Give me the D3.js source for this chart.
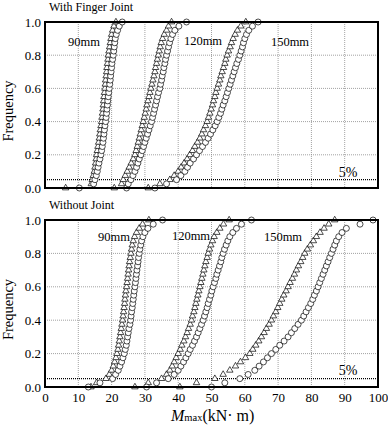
<!DOCTYPE html>
<html>
<head>
<meta charset="utf-8">
<script src="https://cdn.jsdelivr.net/npm/d3@7"></script>
<style>
  body { margin: 0; background: #fff; }
  svg text { font-family: "Liberation Serif", "DejaVu Serif", serif !important; fill: #000; }
</style>
</head>
<body>
<svg id="svg"></svg>
<script>
// sorted M_max values (kN·m), frequency = rank / (n - 1)
const fj90Tri = [6.2,13.9,14.2,14.5,14.8,15.0,15.2,15.35,15.5,15.7,15.9,16.1,16.3,16.45,16.6,16.8,17.0,17.1,17.25,17.4,17.5,17.6,17.7,17.85,18.0,18.1,18.2,18.35,18.5,18.6,18.75,18.9,19.0,19.2,19.4,19.6,19.8,20.0,20.3,20.7,21.3];
const fj90Cir = [10.3,14.6,15.0,15.4,15.7,15.95,16.2,16.5,16.8,17.0,17.2,17.4,17.55,17.7,17.85,18.0,18.2,18.35,18.5,18.6,18.75,18.85,19.0,19.15,19.3,19.45,19.6,19.7,19.85,20.0,20.1,20.3,20.5,20.65,20.8,20.95,21.1,21.4,21.8,22.3,23.2];
const fj120Tri = [20.8,23.0,23.5,24.1,24.7,25.3,25.9,26.5,27.0,27.35,27.7,28.0,28.3,28.6,28.9,29.2,29.5,29.8,30.1,30.4,30.6,30.9,31.2,31.5,31.8,32.1,32.4,32.7,33.0,33.2,33.5,33.75,34.0,34.3,34.6,34.9,35.3,35.8,36.5,37.1,38.0];
const fj120Cir = [24.5,25.0,25.8,26.4,27.0,27.5,27.9,28.3,28.8,29.2,29.6,30.0,30.4,30.8,31.2,31.6,32.0,32.3,32.6,32.9,33.2,33.5,33.8,34.1,34.5,34.7,35.0,35.2,35.5,35.7,36.0,36.2,36.5,36.8,37.1,37.4,37.8,38.3,39.0,40.2,42.5];
const fj150Tri = [31.0,34.5,37.5,38.8,40.0,40.9,41.8,42.7,43.5,44.3,45.0,45.8,46.5,47.1,47.6,48.2,48.7,49.1,49.5,49.9,50.3,50.6,51.0,51.3,51.7,52.1,52.5,52.8,53.2,53.6,54.0,54.3,54.7,55.1,55.6,56.0,56.5,57.1,57.8,58.8,60.3];
const fj150Cir = [33.0,36.5,39.5,40.8,42.0,42.8,43.6,44.6,45.5,46.4,47.3,48.2,49.0,49.7,50.4,51.1,51.7,52.2,52.7,53.1,53.5,54.0,54.4,54.8,55.2,55.6,56.0,56.4,56.8,57.2,57.6,58.1,58.5,58.9,59.3,59.6,60.0,60.5,61.2,62.3,64.0];

const nj90Tri = [13.8,15.5,18.3,19.3,20.0,20.5,20.9,21.3,21.6,21.9,22.1,22.3,22.5,22.7,22.9,23.1,23.3,23.45,23.6,23.75,23.9,24.0,24.15,24.3,24.5,24.65,24.8,24.95,25.1,25.25,25.4,25.6,25.8,26.0,26.2,26.5,26.9,27.5,28.3,29.3,31.2];
const nj90Cir = [13.0,16.5,20.3,21.2,22.0,22.5,23.0,23.4,23.8,24.1,24.4,24.6,24.8,25.0,25.2,25.5,25.7,25.85,26.0,26.2,26.35,26.5,26.65,26.8,27.0,27.15,27.3,27.45,27.6,27.8,27.95,28.1,28.3,28.5,28.75,29.0,29.4,30.0,30.9,32.5,35.3];
const nj120Tri = [27.0,31.0,35.0,36.5,37.5,38.2,38.8,39.4,40.0,40.6,41.1,41.7,42.2,42.7,43.1,43.6,44.0,44.3,44.7,45.0,45.3,45.6,45.9,46.2,46.5,46.8,47.1,47.4,47.7,48.0,48.3,48.7,49.0,49.4,49.8,50.3,50.8,51.6,52.5,53.6,55.3];
const nj120Cir = [30.5,33.5,37.0,38.8,40.0,40.8,41.6,42.3,43.0,43.6,44.3,44.9,45.5,46.0,46.5,47.0,47.5,47.9,48.3,48.7,49.0,49.4,49.8,50.1,50.5,50.9,51.3,51.6,52.0,52.4,52.8,53.1,53.5,53.9,54.4,54.9,55.5,56.4,57.5,59.0,62.0];
const nj150Tri = [40.5,45.5,51.0,53.5,55.5,57.2,58.7,60.2,61.5,62.4,63.3,64.2,65.0,65.8,66.5,67.3,68.0,68.6,69.3,69.9,70.5,71.1,71.7,72.4,73.0,73.6,74.3,74.9,75.5,76.1,76.8,77.4,78.0,78.8,79.7,80.6,81.5,82.6,83.8,85.2,87.0];
const nj150Cir = [50.0,54.0,58.5,61.0,63.0,64.3,65.6,66.8,68.0,69.3,70.5,71.8,73.0,74.0,75.0,76.0,77.0,77.7,78.4,79.1,79.8,80.4,80.9,81.5,82.0,82.5,83.0,83.5,84.0,84.5,85.0,85.5,86.0,86.5,87.0,87.5,88.2,89.2,90.5,94.6,98.5];

const xTicks = [0, 10, 20, 30, 40, 50, 60, 70, 80, 90, 100];
const yTicks = [0, 0.2, 0.4, 0.6, 0.8, 1.0];
const fivePct = 0.05;

const panels = [
  { title: "With Finger Joint", top: 22, bottom: 188,
    series: [["tri", fj90Tri], ["cir", fj90Cir], ["tri", fj120Tri], ["cir", fj120Cir], ["tri", fj150Tri], ["cir", fj150Cir]],
    labels: [["90mm", 84, 46], ["120mm", 203, 45], ["150mm", 290, 46]], pctY: 177, xLabels: false },
  { title: "Without Joint", top: 220, bottom: 387,
    series: [["tri", nj90Tri], ["cir", nj90Cir], ["tri", nj120Tri], ["cir", nj120Cir], ["tri", nj150Tri], ["cir", nj150Cir]],
    labels: [["90mm", 114, 241], ["120mm", 191, 240], ["150mm", 283, 241]], pctY: 375, xLabels: true }
];

const width = 388, height = 425;
const left = 45, right = 378;
const serif = "'Liberation Serif', 'DejaVu Serif', serif";

const svg = d3.select("#svg").attr("width", width).attr("height", height)
  .attr("font-family", serif);

const x = d3.scaleLinear().domain([0, 100]).range([left, right]);
const tri = d3.symbol().type(d3.symbolTriangle).size(18);

panels.forEach(p => {
  const y = d3.scaleLinear().domain([0, 1]).range([p.bottom, p.top]);
  const g = svg.append("g");

  // grid
  g.selectAll(".vgrid").data(xTicks.slice(1, -1)).join("line")
    .attr("x1", d => x(d)).attr("x2", d => x(d))
    .attr("y1", p.top).attr("y2", p.bottom)
    .attr("stroke", "#8a8a8a").attr("stroke-width", 0.8).attr("stroke-dasharray", "1,1");
  g.selectAll(".hgrid").data(yTicks.slice(1, -1)).join("line")
    .attr("x1", left).attr("x2", right)
    .attr("y1", d => y(d)).attr("y2", d => y(d))
    .attr("stroke", "#8a8a8a").attr("stroke-width", 0.8).attr("stroke-dasharray", "1,1");

  // 5% line
  g.append("line")
    .attr("x1", left).attr("x2", right)
    .attr("y1", y(fivePct)).attr("y2", y(fivePct))
    .attr("stroke", "#000").attr("stroke-width", 1.3).attr("stroke-dasharray", "1,1");

  // markers
  p.series.forEach(([kind, vals]) => {
    const n = vals.length;
    const pts = vals.map((v, i) => [v, i / (n - 1)]);
    if (kind === "tri") {
      g.append("g").selectAll("path").data(pts).join("path")
        .attr("d", tri)
        .attr("transform", d => `translate(${x(d[0])},${y(d[1])})`)
        .attr("fill", "#fff").attr("stroke", "#000").attr("stroke-width", 0.7);
    } else {
      g.append("g").selectAll("circle").data(pts).join("circle")
        .attr("cx", d => x(d[0])).attr("cy", d => y(d[1])).attr("r", 3)
        .attr("fill", "#fff").attr("stroke", "#000").attr("stroke-width", 0.7);
    }
  });

  // frame
  g.append("rect")
    .attr("x", left).attr("y", p.top)
    .attr("width", right - left).attr("height", p.bottom - p.top)
    .attr("fill", "none").attr("stroke", "#000").attr("stroke-width", 2);

  // y axis labels
  g.append("g").attr("transform", `translate(${left - 4},0)`)
    .call(d3.axisLeft(y).tickValues(yTicks).tickFormat(d3.format(".1f")).tickSize(0).tickPadding(0))
    .attr("font-family", serif).attr("font-size", 13)
    .call(a => a.select(".domain").remove());

  if (p.xLabels) {
    g.append("g").attr("transform", `translate(0,${p.bottom + 6})`)
      .call(d3.axisBottom(x).tickValues(xTicks).tickSize(0).tickPadding(0))
      .attr("font-family", serif).attr("font-size", 13)
      .call(a => a.select(".domain").remove())
      .selectAll("text").attr("dy", "0.71em");
  }

  g.append("text")
    .attr("x", 49).attr("y", p.top - 11)
    .attr("font-size", 12).text(p.title);

  g.append("text")
    .attr("transform", `translate(13,${(p.top + p.bottom) / 2 + 6}) rotate(-90)`)
    .attr("text-anchor", "middle").attr("font-size", 14.5).text("Frequency");

  g.selectAll(".lab").data(p.labels).join("text")
    .attr("x", d => d[1]).attr("y", d => d[2])
    .attr("text-anchor", "middle").attr("font-size", 12.5)
    .text(d => d[0]);

  g.append("text")
    .attr("x", 348).attr("y", p.pctY)
    .attr("text-anchor", "middle").attr("font-size", 14).text("5%");
});

// x axis title
const xt = svg.append("text").attr("x", 171).attr("y", 421).attr("font-size", 16);
xt.append("tspan").attr("font-style", "italic").text("M");
xt.append("tspan").attr("font-size", 10.5).text("max");
xt.append("tspan").text("(kN\u00B7 m)");
</script>
</body>
</html>
